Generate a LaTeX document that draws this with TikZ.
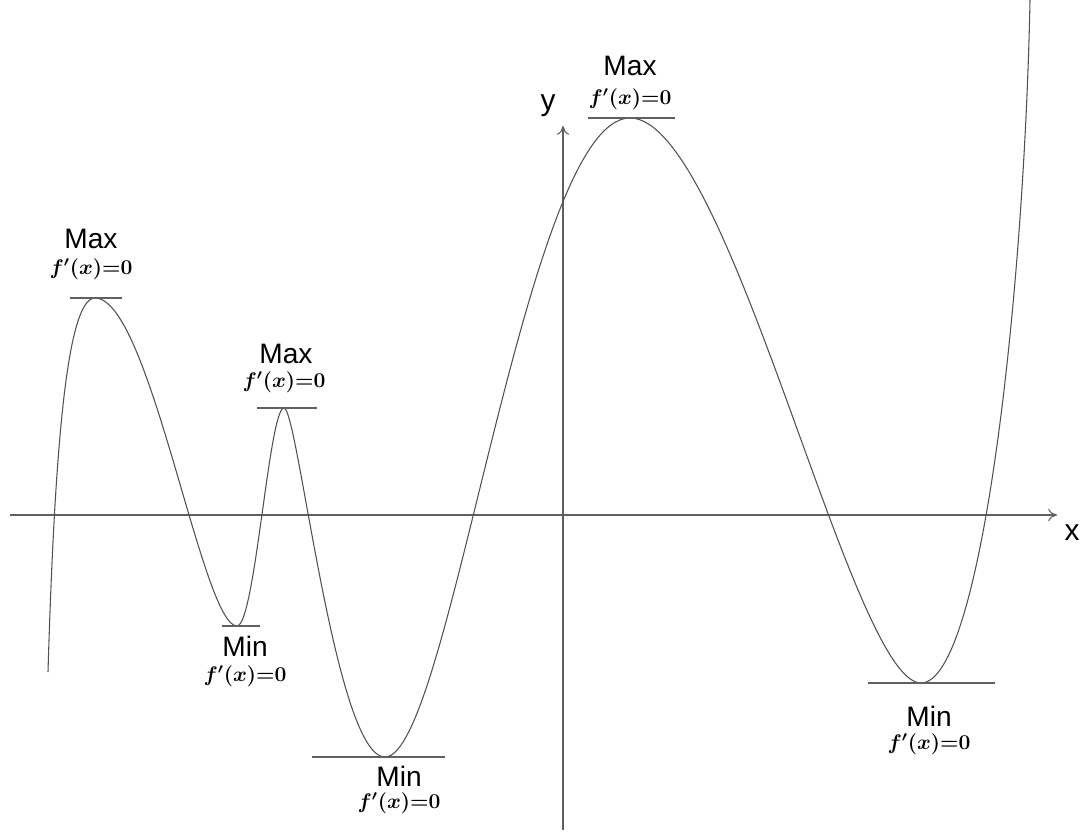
\documentclass[tikz,border=0pt]{standalone}
\usepackage{fontspec}
\setsansfont{Liberation Sans}
\usetikzlibrary{positioning,arrows.meta}
\definecolor{curvegray}{HTML}{505050}
\definecolor{axisgray}{HTML}{606060}

\begin{document}
\begin{tikzpicture}[x=0.02cm, y=0.02cm, line width=0.6pt,
    word/.style={font=\sffamily\fontsize{16}{18}\selectfont, inner sep=0pt},
    cond/.style={font=\fontsize{11.5}{13}\selectfont\boldmath, inner sep=0pt},
    tang/.style={draw=axisgray},
    axis/.style={draw=axisgray, -{To[length=5pt,width=7pt]}}]
    \useasboundingbox (0,0) rectangle (1081,836);
    % axes
    \coordinate (xs) at (10,321);
    \coordinate (xe) at (1057,321);
    \coordinate (ys) at (563,6);
    \coordinate (ye) at (563,710);
    \draw[axis] (xs) -- (xe);
    \draw[axis] (ys) -- (ye);
    \node[font=\sffamily\fontsize{17}{19}\selectfont] (xl) at (1072,303) {x};
    \node[font=\sffamily\fontsize{17}{19}\selectfont] (yl) at (548,730) {y};
    % extrema
    \coordinate (s) at (48,164);
    \coordinate (max1) at (95,538);
    \coordinate (min1) at (237,210);
    \coordinate (max2) at (284,428);
    \coordinate (min2) at (385,79);
    \coordinate (max3) at (630,718);
    \coordinate (min3) at (921,153);
    \coordinate (e) at (1030,836);
    \draw[curvegray] (s) .. controls +(6,200) and +(-30,0) .. (max1)
        .. controls +(55,0) and +(-35,0) .. (min1)
        .. controls +(18,0) and +(-15,0) .. (max2)
        .. controls +(14,0) and +(-50,0) .. (min2)
        .. controls +(65,0) and +(-105,0) .. (max3)
        .. controls +(100,0) and +(-70,0) .. (min3)
        .. controls +(60,0) and +(-6,-300) .. (e);
    % tangent lines
    \draw[tang] (70,538) -- (122,538);
    \draw[tang] (222,210) -- (260,210);
    \draw[tang] (257,428) -- (317,428);
    \draw[tang] (312,79) -- (445,79);
    \draw[tang] (588,718) -- (675,718);
    \draw[tang] (868,153) -- (995,153);
    % labels
    \node[word] (m1) at (91,597) {Max};
    \node[cond] (c1) at (91,567) {$f'(x){=}0$};
    \node[word] (m2) at (286,482) {Max};
    \node[cond] (c2) at (284,454) {$f'(x){=}0$};
    \node[word] (m3) at (630,770) {Max};
    \node[cond] (c3) at (630,737) {$f'(x){=}0$};
    \node[word] (n1) at (245,190) {Min};
    \node[cond] (d1) at (245,160) {$f'(x){=}0$};
    \node[word] (n2) at (399,60) {Min};
    \node[cond] (d2) at (399,33) {$f'(x){=}0$};
    \node[word] (n3) at (929,120) {Min};
    \node[cond] (d3) at (929,92) {$f'(x){=}0$};
\end{tikzpicture}
\end{document}
